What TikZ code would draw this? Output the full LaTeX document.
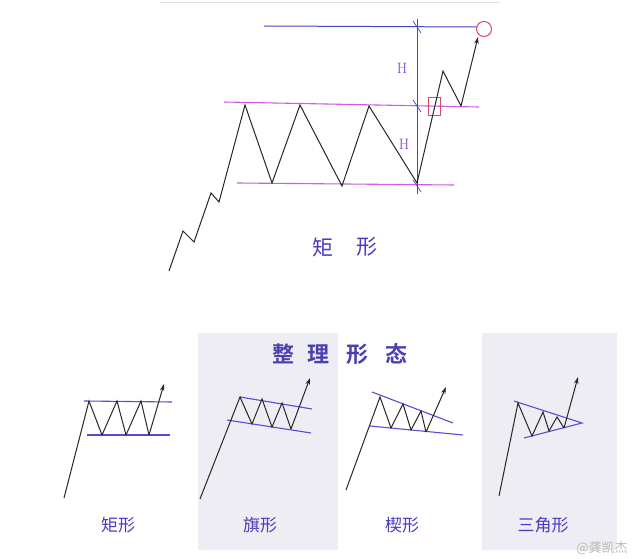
\documentclass[tikz,border=0pt]{standalone}
\usepackage{fontspec}
\newfontfamily\cjk{Noto Sans CJK SC}
\newfontfamily\cjkb{Noto Sans CJK SC Bold}
\usetikzlibrary{arrows.meta}
\definecolor{magl}{HTML}{CC5CE0}
\definecolor{bluel}{HTML}{4444D0}
\definecolor{hcol}{HTML}{7A3CE0}
\definecolor{lab}{HTML}{4A3CC0}
\definecolor{redc}{HTML}{D84868}
\definecolor{panel}{HTML}{EDEDF3}
\definecolor{ttl}{HTML}{4A40B0}
\tikzset{
  price/.style={black!85, line width=1pt, line join=miter},
  tip/.style={-{Stealth[length=7pt,width=4.5pt]}},
  magline/.style={draw=magl, line width=1.1pt},
  bline/.style={draw=bluel, line width=1pt},
  pline/.style={draw=bluel!80!magl, line width=1.1pt},
  hlab/.style={text=hcol, font=\fontsize{15}{15}\selectfont},
  bigcn/.style={text=lab, font=\cjk\fontsize{21}{21}\selectfont},
  cnlab/.style={text=lab, font=\cjk\fontsize{17}{17}\selectfont},
  ttlch/.style={text=ttl, font=\cjkb\fontsize{22}{22}\selectfont},
}
\begin{document}
\begin{tikzpicture}[x=1pt,y=-1pt]
\useasboundingbox (0,0) rectangle (640,559);
\fill[white] (0,0) rectangle (640,559);
\draw[gray!25, line width=0.8pt] (160,2) -- (500,2);
% ---------- main rectangle diagram ----------
\draw[bline] (264,26) -- (477,27);
\node[circle, draw=redc, line width=1pt, minimum size=15pt, inner sep=0pt] (circ) at (484,29) {};
\draw[magline] (224,102) -- (479,107);
\draw[magline] (237,183) -- (454,185);
\draw[bline] (417,19) -- (417,194);
\foreach \yy in {27,106,186} \draw[bline, line width=0.7pt] (413,\yy-6) -- (421,\yy+6);
\draw[redc, line width=0.9pt] (428,97) rectangle (440,115);
\draw[price] (169,271) -- (183,231) -- (194,242) -- (211,193) -- (219,202) -- (245,105)
  -- (272,183) -- (300,105) -- (342,186) -- (369,106) -- (417,183) -- (443,71) -- (461,106);
\draw[price, tip] (461,106) -- (478,37);
\node[hlab] (h1) at (402,68) {H};
\node[hlab] (h2) at (404,144) {H};
\node[bigcn] (m1) at (323,247) {矩};
\node[bigcn] (m2) at (367,247) {形};
% ---------- bottom panels ----------
\fill[panel] (198,333) rectangle (338,550);
\fill[panel] (482,333) rectangle (617,550);
% title
\node[ttlch] (t1) at (283,354) {整};
\node[ttlch] (t2) at (318,354) {理};
\node[ttlch] (t3) at (357,354) {形};
\node[ttlch] (t4) at (396,354) {态};
% panel 1: rectangle
\draw[pline] (84,401) -- (172,402);
\draw[pline] (87,435) -- (170,435);
\draw[price] (64,498) -- (89,401) -- (102,435) -- (117,401) -- (126,435) -- (141,401) -- (149,435);
\draw[price, tip] (149,435) -- (164,384);
\node[cnlab] (l1) at (118,525) {矩形};
% panel 2: flag
\draw[pline] (240,397) -- (312,409);
\draw[pline] (227,420) -- (311,433);
\draw[price] (200,499) -- (240,397) -- (252,424) -- (262,399) -- (272,427) -- (282,403) -- (291,429);
\draw[price, tip] (291,429) -- (310,378);
\node[cnlab] (l2) at (260,525) {旗形};
% panel 3: wedge
\draw[pline] (372,392) -- (453,423);
\draw[pline] (370,426) -- (463,435);
\draw[price] (346,490) -- (380,397) -- (391,428) -- (403,404) -- (411,430) -- (421,411) -- (426,432);
\draw[price, tip] (426,432) -- (446,387);
\node[cnlab] (l3) at (402,525) {楔形};
% panel 4: triangle
\draw[pline] (514,401) -- (582,423) -- (524,438);
\draw[price] (499,496) -- (518,403) -- (532,436) -- (543,412) -- (549,431) -- (557,417) -- (564,428);
\draw[price, tip] (564,428) -- (578,377);
\node[cnlab] (l4) at (543,525) {三角形};
% watermark
\node[text=gray!55, font=\cjk\fontsize{13}{13}\selectfont] (wm) at (602,548) {@龚凯杰};
\end{tikzpicture}
\end{document}
